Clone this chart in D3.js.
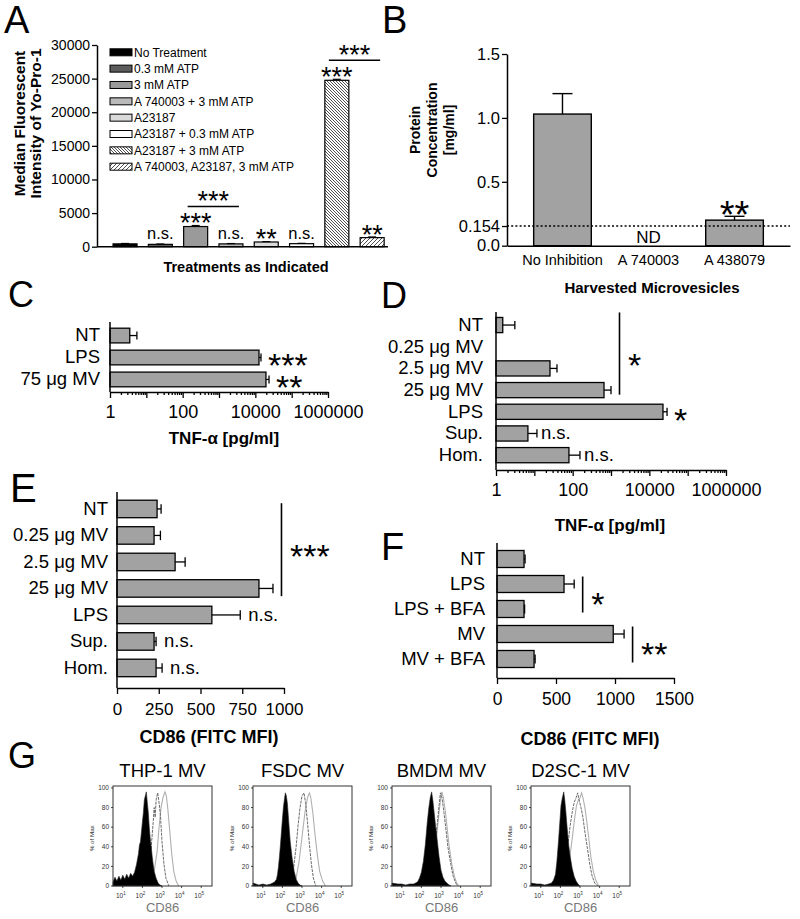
<!DOCTYPE html>
<html><head><meta charset="utf-8">
<script src="https://cdn.jsdelivr.net/npm/d3@7"></script>
<style>body{margin:0;background:#fff}svg{display:block}</style>
</head><body>
<svg id="fig" width="800" height="919"></svg>
<script>
// ---------------- DATA ----------------
// Panel A
const aCategories = ["No Treatment","0.3 mM ATP","3 mM ATP","A 740003 + 3 mM ATP","A23187","A23187 + 0.3 mM ATP","A23187 + 3 mM ATP","A 740003, A23187, 3 mM ATP"];
const aValues = [420, 350, 3000, 420, 700, 450, 24750, 1350];
const aErrors = [60, 50, 150, 50, 60, 50, 150, 100];
const aSig = ["", "n.s.", "***", "n.s.", "**", "n.s.", "***", "**"];
const aBrackets = [{from:2, to:3, label:"***"}, {from:6, to:7, label:"***"}];
const aTicks = [0, 5000, 10000, 15000, 20000, 25000, 30000];
// Panel B
const bCategories = ["No Inhibition","A 740003","A 438079"];
const bValues = [1.03, null, 0.20];
const bErrors = [0.16, null, 0.03];
const bSig = ["", "ND", "**"];
const bTicks = [0, 0.154, 0.5, 1.0, 1.5];
const bTickLabels = ["0.0","0.154","0.5","1.0","1.5"];
const bThreshold = 0.154;
// Panel C
const cCategories = ["NT","LPS","75 \u03bcg MV"];
const cValues = [3.5, 12600, 19600];
const cErrors = [2.0, 1700, 4200];
const cSig = ["", "***", "**"];
// Panel D
const dCategories = ["NT","0.25 \u03bcg MV","2.5 \u03bcg MV","25 \u03bcg MV","LPS","Sup.","Hom."];
const dValues = [1.5, null, 25.6, 657, 22700, 6.8, 80];
const dErrors = [1.6, null, 13.4, 343, 6300, 4.9, 75];
const dSig = ["", "", "", "", "*", "n.s.", "n.s."];
const dBrackets = [{from:0, to:3, label:"*"}];
// Panel E
const eCategories = ["NT","0.25 \u03bcg MV","2.5 \u03bcg MV","25 \u03bcg MV","LPS","Sup.","Hom."];
const eValues = [240, 222, 348, 850, 568, 222, 234];
const eErrors = [24, 38, 60, 84, 170, 12, 36];
const eSig = ["", "", "", "", "n.s.", "n.s.", "n.s."];
const eBrackets = [{from:0, to:3, label:"***"}];
const eTicks = [0, 250, 500, 750, 1000];
// Panel F
const fCategories = ["NT","LPS","LPS + BFA","MV","MV + BFA"];
const fValues = [229, 568, 229, 985, 314];
const fErrors = [9, 86, 5, 92, 9];
const fBrackets = [{from:1, to:2, label:"*"}, {from:3, to:4, label:"**"}];
const fTicks = [0, 500, 1000, 1500];
// Log axis ticks (C, D)
const logDecades = [1, 10, 100, 1000, 10000, 100000, 1000000];
const logLabels = [1, 100, 10000, 1000000];
// Panel G (flow histograms): [log10(CD86), % of Max]
const gTitles = ["THP-1 MV","FSDC MV","BMDM MV","D2SC-1 MV"];
const gYTicks = [0, 20, 40, 60, 80, 100];
const gXTicks = [1, 2, 3, 4, 5];
const thp1Black = [[0.5,4],[0.6,9],[0.7,5],[0.8,10],[0.9,6],[1.0,11],[1.1,7],[1.2,12],[1.3,8],[1.4,13],[1.5,10],[1.6,14],[1.7,22],[1.8,33],[1.85,42],[1.9,45],[1.95,55],[2.0,65],[2.05,75],[2.1,88],[2.15,92],[2.2,96],[2.25,85],[2.3,75],[2.35,60],[2.4,48],[2.45,40],[2.5,30],[2.55,22],[2.6,15],[2.7,8],[2.8,3],[2.9,1],[3.0,0]];
const thp1Dark = [[0.5,3],[0.8,6],[1.1,5],[1.4,8],[1.7,10],[2.0,12],[2.2,14],[2.35,22],[2.45,40],[2.55,65],[2.6,80],[2.65,70],[2.7,88],[2.78,95],[2.85,85],[2.92,72],[3.0,45],[3.1,22],[3.2,8],[3.35,0]];
const thp1Light = [[0.5,2],[1.0,4],[1.5,5],[2.0,6],[2.4,8],[2.6,15],[2.75,35],[2.85,60],[2.95,80],[3.05,90],[3.15,96],[3.22,92],[3.3,78],[3.4,55],[3.5,32],[3.6,15],[3.72,5],[3.85,0]];
const fsdcBlack = [[0.5,3],[0.8,1],[1.0,2],[1.2,1],[1.4,2],[1.5,3],[1.6,4],[1.7,7],[1.75,12],[1.8,20],[1.85,30],[1.9,42],[1.95,55],[2.0,68],[2.05,80],[2.1,88],[2.15,95],[2.2,92],[2.25,85],[2.3,72],[2.35,58],[2.4,45],[2.5,28],[2.6,15],[2.7,7],[2.8,3],[2.9,1],[3.0,0]];
const fsdcDark = [[2.2,1],[2.4,5],[2.55,15],[2.7,40],[2.8,62],[2.9,80],[3.0,92],[3.1,95],[3.18,85],[3.28,65],[3.38,42],[3.48,22],[3.58,8],[3.7,0]];
const fsdcLight = [[2.5,1],[2.7,8],[2.85,25],[3.0,50],[3.15,75],[3.28,90],[3.38,95],[3.45,90],[3.55,75],[3.65,55],[3.78,32],[3.9,15],[4.05,5],[4.2,0]];
const bmdmBlack = [[0.5,3],[0.8,2],[1.0,2],[1.2,1],[1.4,2],[1.6,2],[1.8,4],[1.9,8],[2.0,14],[2.1,25],[2.2,42],[2.3,65],[2.38,80],[2.45,90],[2.52,96],[2.58,88],[2.65,75],[2.72,62],[2.8,48],[2.9,30],[3.0,16],[3.1,9],[3.2,5],[3.35,2],[3.5,0]];
const bmdmDark = [[2.2,2],[2.4,8],[2.55,20],[2.7,42],[2.8,62],[2.9,82],[2.97,95],[3.05,90],[3.15,75],[3.25,58],[3.35,40],[3.5,22],[3.62,10],[3.75,3],[3.85,0]];
const bmdmLight = [[2.3,2],[2.5,10],[2.65,28],[2.8,55],[2.9,75],[3.0,92],[3.05,96],[3.12,90],[3.22,76],[3.32,58],[3.42,40],[3.55,22],[3.68,10],[3.8,3],[3.92,0]];
const d2scBlack = [[0.5,3],[0.8,2],[1.0,2],[1.2,1],[1.4,2],[1.55,3],[1.65,6],[1.75,12],[1.82,25],[1.9,45],[1.97,65],[2.03,82],[2.1,90],[2.17,96],[2.22,88],[2.28,75],[2.35,58],[2.42,42],[2.5,30],[2.6,18],[2.7,10],[2.8,5],[2.9,2],[3.0,0]];
const d2scDark = [[1.9,2],[2.1,8],[2.25,22],[2.4,45],[2.5,62],[2.6,75],[2.7,85],[2.8,90],[2.88,95],[2.95,88],[3.05,80],[3.15,70],[3.25,55],[3.38,38],[3.5,22],[3.62,10],[3.75,3],[3.9,0]];
const d2scLight = [[2.1,2],[2.3,10],[2.45,25],[2.6,48],[2.72,68],[2.82,82],[2.92,88],[3.0,90],[3.08,95],[3.15,90],[3.25,80],[3.35,65],[3.45,48],[3.55,30],[3.68,15],[3.8,6],[3.95,0]];
const gBlack = [thp1Black, fsdcBlack, bmdmBlack, d2scBlack];
const gDark = [thp1Dark, fsdcDark, bmdmDark, d2scDark];
const gLight = [thp1Light, fsdcLight, bmdmLight, d2scLight];

// ---------------- STYLE ----------------
const FONT = "'Liberation Sans', Arial, Helvetica, sans-serif";
const BAR = "#a2a2a2";
const aFills = ["#000","#5c5c5c","#9a9a9a","#b9b9b9","#dadada","#fff","url(#hatchBack)","url(#hatchFwd)"];

const svg = d3.select("#fig").attr("font-family", FONT);
svg.append("rect").attr("width",800).attr("height",919).attr("fill","#fff");
const defs = svg.append("defs");
const p1 = defs.append("pattern").attr("id","hatchBack").attr("patternUnits","userSpaceOnUse").attr("width",3).attr("height",3);
p1.append("rect").attr("width",3).attr("height",3).attr("fill","#fff");
p1.append("path").attr("d","M0,0L3,3M-1,2L1,4M2,-1L4,1").attr("stroke","#222").attr("stroke-width",0.8);
const p2 = defs.append("pattern").attr("id","hatchFwd").attr("patternUnits","userSpaceOnUse").attr("width",4).attr("height",4);
p2.append("rect").attr("width",4).attr("height",4).attr("fill","#fff");
p2.append("path").attr("d","M0,4L4,0M-1,1L1,-1M3,5L5,3").attr("stroke","#222").attr("stroke-width",0.8);

function txt(g, x, y, s, o = {}) {
  const t = g.append("text").attr("x", x).attr("y", y).text(s)
    .attr("font-size", o.size || 14).attr("text-anchor", o.anchor || "start")
    .attr("font-weight", o.weight || "normal").attr("fill", o.fill || "#000");
  if (o.rotate) t.attr("transform", `rotate(${o.rotate},${x},${y})`);
  return t;
}
function ctxt(g, x, yc, s, o = {}) { return txt(g, x, yc + 0.355 * (o.size || 14), s, o); }
function stars(g, x, yc, s, size, anchor) { return txt(g, x, yc + 0.58 * size, s, {size, anchor}); }
function vline(g, x, y1, y2, w) { g.append("line").attr("x1",x).attr("x2",x).attr("y1",y1).attr("y2",y2).attr("stroke","#000").attr("stroke-width",w||1.5); }
function hline(g, x1, x2, y, w) { g.append("line").attr("x1",x1).attr("x2",x2).attr("y1",y).attr("y2",y).attr("stroke","#000").attr("stroke-width",w||1.5); }
function styleAxis(sel, size) {
  sel.attr("font-family", FONT).attr("font-size", size);
  sel.selectAll(".domain").attr("stroke-width", 1.5).attr("stroke", "#000");
  sel.selectAll(".tick line").attr("stroke-width", 1.3).attr("stroke", "#000");
  sel.selectAll(".tick text").attr("fill", "#000");
}
function letter(x, y, s, size) { txt(svg, x, y, s, {size: size || 38}); }

// ---------------- PANEL A ----------------
(function () {
  const g = svg.append("g");
  const x = d3.scaleBand().domain(d3.range(aValues.length)).range([107.4, 389.8]).paddingInner(0.32).paddingOuter(0.16);
  const y = d3.scaleLinear().domain([0, 30000]).range([246.7, 45]);
  const bw = x.bandwidth();
  aValues.forEach((v, i) => {
    g.append("rect").attr("x", x(i)).attr("y", y(v)).attr("width", bw).attr("height", y(0) - y(v))
      .attr("fill", aFills[i]).attr("stroke", "#000").attr("stroke-width", 1.2);
    const ye = y(v + aErrors[i]);
    vline(g, x(i) + bw / 2, y(v), ye, 1.2);
    hline(g, x(i) + bw / 2 - 4, x(i) + bw / 2 + 4, ye, 1.2);
    const top = ye, cx = x(i) + bw / 2;
    if (aSig[i] === "n.s.") txt(g, cx, top - 9 + 4.3, "n.s.", {size: 16.5, anchor: "middle"});
    else if (aSig[i]) stars(g, cx, top - 9, aSig[i], 27, "middle");
  });
  aBrackets.forEach(b => {
    const top = Math.min(y(aValues[b.from] + aErrors[b.from]), y(aValues[b.to] + aErrors[b.to]));
    const ly = top - 19;
    hline(g, x(b.from) + 4, x(b.to) + bw - 4, ly, 1.5);
    stars(g, (x(b.from) + x(b.to) + bw) / 2, ly - 12, b.label, 27, "middle");
  });
  const ya = g.append("g").attr("transform", "translate(97,0)")
    .call(d3.axisLeft(y).tickValues(aTicks).tickSize(5).tickSizeOuter(0).tickPadding(2).tickFormat(d3.format("d")));
  styleAxis(ya, 14);
  hline(g, 97, 388, 246.7, 1.5);
  aCategories.forEach((c, i) => {
    const yc = 52.3 + i * 16.34;
    g.append("rect").attr("x", 110).attr("y", yc - 3.5).attr("width", 22).attr("height", 7)
      .attr("fill", aFills[i]).attr("stroke", "#000").attr("stroke-width", 1);
    ctxt(g, 134, yc, c, {size: 12});
  });
  ctxt(g, 20 + 5.5, 118, "Median Fluorescent", {size: 15.5, weight: "bold", anchor: "middle", rotate: -90});
  ctxt(g, 36 + 5.5, 118, "Intensity of Yo-Pro-1", {size: 15.5, weight: "bold", anchor: "middle", rotate: -90});
  ctxt(g, 246, 267, "Treatments as Indicated", {size: 14.5, weight: "bold", anchor: "middle"});
  letter(4, 33, "A", 38);
})();

// ---------------- PANEL B ----------------
(function () {
  const g = svg.append("g");
  const x = d3.scaleBand().domain(d3.range(bCategories.length)).range([507, 790]).paddingInner(0.33).paddingOuter(0.31);
  const y = d3.scaleLinear().domain([0, 1.5]).range([245.7, 54]);
  const bw = x.bandwidth();
  bValues.forEach((v, i) => {
    const cx = x(i) + bw / 2;
    if (v == null) { ctxt(g, cx, 237, bSig[i], {size: 17, anchor: "middle"}); return; }
    g.append("rect").attr("x", x(i)).attr("y", y(v)).attr("width", bw).attr("height", y(0) - y(v))
      .attr("fill", BAR).attr("stroke", "#000").attr("stroke-width", 1.4);
    const ye = y(v + bErrors[i]);
    vline(g, cx, y(v), ye, 1.4);
    hline(g, cx - 10, cx + 10, ye, 1.4);
    if (bSig[i]) stars(g, cx, ye - 10, bSig[i], 38, "middle");
  });
  g.append("line").attr("x1", 507).attr("x2", 790).attr("y1", y(bThreshold)).attr("y2", y(bThreshold))
    .attr("stroke", "#000").attr("stroke-width", 1.3).attr("stroke-dasharray", "2,2.2");
  const ya = g.append("g").attr("transform", "translate(507,0)")
    .call(d3.axisLeft(y).tickValues(bTicks).tickSize(5).tickSizeOuter(0).tickPadding(2).tickFormat((d, i) => bTickLabels[i]));
  styleAxis(ya, 16.5);
  const xa = g.append("g").attr("transform", `translate(0,${y(0)})`)
    .call(d3.axisBottom(x).tickSize(0).tickSizeOuter(0).tickPadding(9).tickFormat(i => bCategories[i]));
  styleAxis(xa, 14.5);
  ctxt(g, 415 + 5, 125, "Protein", {size: 14, weight: "bold", anchor: "middle", rotate: -90});
  ctxt(g, 432 + 5, 125, "Concentration", {size: 14, weight: "bold", anchor: "middle", rotate: -90});
  ctxt(g, 449 + 5, 125, "[mg/ml]", {size: 14, weight: "bold", anchor: "middle", rotate: -90});
  ctxt(g, 652, 288, "Harvested Microvesicles", {size: 15, weight: "bold", anchor: "middle"});
  letter(382, 33, "B", 38);
})();

// ---------------- Horizontal bar panels ----------------
function hPanel(p) {
  const g = svg.append("g");
  const x = p.x;
  const base = x.range()[0];
  const y = d3.scaleBand().domain(d3.range(p.cats.length)).range(p.band).paddingInner(p.pi).paddingOuter(p.po);
  const bw = y.bandwidth();
  const ends = [];
  p.vals.forEach((v, i) => {
    if (v == null) { ends[i] = base; return; }
    const yb = y(i), yc = yb + bw / 2, xv = x(v), xe = x(v + p.errs[i]);
    ends[i] = xe;
    g.append("rect").attr("x", base).attr("y", yb).attr("width", xv - base).attr("height", bw)
      .attr("fill", BAR).attr("stroke", "#000").attr("stroke-width", 1.3);
    hline(g, xv, xe, yc, 1.3);
    vline(g, xe, yc - bw * 0.27, yc + bw * 0.27, 1.3);
    const s = p.sig ? p.sig[i] : "";
    if (s === "n.s.") ctxt(g, xe + p.nsGap, yc - 1, "n.s.", {size: 18.5});
    else if (s) stars(g, xe + 7, yc, s, 34, "start");
  });
  (p.brackets || []).forEach(b => {
    const xl = d3.max(d3.range(b.from, b.to + 1), i => ends[i]) + 8.5;
    vline(g, xl, y(b.from) + p.brTop, y(b.to) + bw + p.brBot, 1.6);
    stars(g, xl + 8.5, (y(b.from) + y(b.to) + bw) / 2, b.label, 34, "start");
  });
  vline(g, base, p.yTop, p.axisY, 1.5);
  const la = g.append("g").attr("transform", `translate(${base},0)`)
    .call(d3.axisLeft(y).tickSize(0).tickPadding(p.labelPad).tickFormat(i => p.cats[i]));
  la.select(".domain").remove();
  styleAxis(la, 18.5);
  let xa;
  if (p.log) {
    xa = g.append("g").attr("transform", `translate(0,${p.axisY})`);
    const minors = [];
    logDecades.slice(0, -1).forEach(d => { for (let k = 2; k <= 9; k++) minors.push(d * k); });
    xa.append("g").call(d3.axisBottom(x).tickValues(minors).tickSize(3).tickSizeOuter(0).tickFormat(""))
      .call(s => s.select(".domain").remove()).call(s => styleAxis(s, 18));
    xa.append("g").call(d3.axisBottom(x).tickValues(logDecades).tickSize(6).tickSizeOuter(0).tickPadding(p.tickPad)
      .tickFormat(d => logLabels.includes(d) ? d3.format("d")(d) : "")).call(s => styleAxis(s, 18));
  } else {
    xa = g.append("g").attr("transform", `translate(0,${p.axisY})`)
      .call(d3.axisBottom(x).tickValues(p.ticks).tickSize(6).tickSizeOuter(0).tickPadding(p.tickPad).tickFormat(d3.format("d")));
    styleAxis(xa, p.tickSize || 17.5);
  }
  ctxt(g, p.titleX, p.titleY, p.title, {size: p.titleSize, weight: "bold", anchor: "middle"});
}

hPanel({cats: cCategories, vals: cValues, errs: cErrors, sig: cSig, x: d3.scaleLog().domain([1, 1e6]).range([110, 328]),
  band: [326, 389], pi: 0.33, po: 0.1, yTop: 322, axisY: 392, labelPad: 10, log: true, tickPad: 7,
  title: "TNF-\u03b1 [pg/ml]", titleX: 224, titleY: 438, titleSize: 17, nsGap: 5});
letter(8, 307, "C", 36);

hPanel({cats: dCategories, vals: dValues, errs: dErrors, sig: dSig, brackets: dBrackets, brTop: -5, brBot: -3,
  x: d3.scaleLog().domain([1, 1e6]).range([496, 726]),
  band: [314.2, 466], pi: 0.3, po: 0.15, yTop: 312, axisY: 470, labelPad: 13, log: true, tickPad: 7,
  title: "TNF-\u03b1 [pg/ml]", titleX: 610, titleY: 525, titleSize: 17, nsGap: 4});
letter(381, 308, "D", 36);

hPanel({cats: eCategories, vals: eValues, errs: eErrors, sig: eSig, brackets: eBrackets, brTop: 3, brBot: -1,
  x: d3.scaleLinear().domain([0, 1000]).range([117, 284]),
  band: [495.7, 681.2], pi: 0.34, po: 0.17, yTop: 492, axisY: 688, labelPad: 9, ticks: eTicks, tickPad: 9, tickSize: 17,
  title: "CD86 (FITC MFI)", titleX: 209, titleY: 737, titleSize: 18, nsGap: 8});
letter(10, 502, "E", 40);

hPanel({cats: fCategories, vals: fValues, errs: fErrors, sig: null, brackets: fBrackets, brTop: 1, brBot: -5,
  x: d3.scaleLinear().domain([0, 1500]).range([497, 674]),
  band: [546.5, 671.5], pi: 0.32, po: 0.16, yTop: 543, axisY: 678, labelPad: 12, ticks: fTicks, tickPad: 9, tickSize: 17.5,
  title: "CD86 (FITC MFI)", titleX: 590, titleY: 739, titleSize: 18, nsGap: 6});
letter(381, 560, "F", 38);

// ---------------- PANEL G ----------------
(function () {
  const boxX = [113, 253, 392, 531];
  const bwid = 99, top = 786, bot = 886;
  gTitles.forEach((t, k) => {
    const g = svg.append("g");
    const x0 = boxX[k];
    const x = d3.scaleLog().domain([Math.pow(10, 0.5), Math.pow(10, 5.55)]).range([x0, x0 + bwid]);
    const y = d3.scaleLinear().domain([0, 102]).range([bot, top]);
    const X = d => x(Math.pow(10, d[0]));
    const area = d3.area().x(X).y0(y(0)).y1(d => y(d[1]));
    const line = d3.line().x(X).y(d => y(d[1]));
    g.append("path").attr("d", line(gLight[k])).attr("fill", "none").attr("stroke", "#b0b0b0").attr("stroke-width", 1.1);
    g.append("path").attr("d", line(gDark[k])).attr("fill", "none").attr("stroke", "#6a6a6a").attr("stroke-width", 1)
      .attr("stroke-dasharray", "3,1");
    g.append("path").attr("d", area(gBlack[k])).attr("fill", "#000").attr("stroke", "#222").attr("stroke-width", 0.6);
    g.append("rect").attr("x", x0).attr("y", top).attr("width", bwid).attr("height", bot - top)
      .attr("fill", "none").attr("stroke", "#333").attr("stroke-width", 1);
    gYTicks.forEach(v => {
      hline(g, x0 - 2, x0, y(v), 0.7);
      ctxt(g, x0 - 4, y(v), String(v), {size: 6.5, anchor: "end", fill: "#333"});
    });
    gXTicks.forEach(e => {
      const xx = x(Math.pow(10, e));
      vline(g, xx, bot, bot + 2, 0.7);
      const tt = txt(g, xx - 2, 898, "10", {size: 6.5, anchor: "middle", fill: "#333"});
      tt.append("tspan").attr("dy", -3).attr("font-size", 4.5).text(String(e));
    });
    ctxt(g, x0 - 21 + 2.2, 836, "% of Max", {size: 6.2, anchor: "middle", rotate: -90, fill: "#333"});
    ctxt(g, x0 + bwid / 2, 907, "CD86", {size: 13, anchor: "middle", fill: "#777"});
    ctxt(g, x0 + bwid / 2, 770, t, {size: 18.5, anchor: "middle"});
  });
  letter(8, 768, "G", 36);
})();
</script>
</body></html>
